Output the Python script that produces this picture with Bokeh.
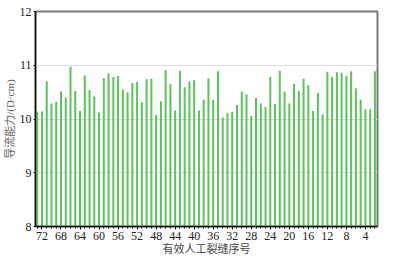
from bokeh.plotting import figure
from bokeh.models import Range1d, FixedTicker
from bokeh.embed import file_html
from bokeh.resources import INLINE

# fracture numbers (reversed order, as drawn left to right)
fracture_no = list(range(73, 1, -1))
conductivity = [
    10.14, 10.14, 10.70, 10.29, 10.32, 10.51, 10.40, 10.97, 10.52, 10.15,
    10.81, 10.54, 10.42, 10.12, 10.76, 10.85, 10.78, 10.80, 10.55, 10.50,
    10.67, 10.69, 10.31, 10.74, 10.75, 10.08, 10.33, 10.91, 10.65, 10.16,
    10.90, 10.59, 10.70, 10.72, 10.16, 10.36, 10.76, 10.36, 10.89, 10.03,
    10.11, 10.13, 10.26, 10.51, 10.46, 10.06, 10.39, 10.29, 10.23, 10.78,
    10.28, 10.90, 10.51, 10.29, 10.65, 10.52, 10.75, 10.63, 10.15, 10.49,
    10.09, 10.88, 10.78, 10.87, 10.86, 10.80, 10.89, 10.57, 10.36, 10.18,
    10.18, 10.89,
]
x_ticks = [72, 68, 64, 60, 56, 52, 48, 44, 40, 36, 32, 28, 24, 20, 16, 12, 8, 4]
y_ticks = [8, 9, 10, 11, 12]

MIXED_FONT = "'Liberation Serif', 'Noto Sans CJK SC'"

p = figure(width=393, height=257, output_backend="svg", toolbar_location=None,
           x_range=Range1d(73.36, 1.46), y_range=Range1d(8, 12),
           min_border_left=0, min_border_right=16, min_border_top=11, min_border_bottom=0)

p.vbar(x=fracture_no, top=conductivity, bottom=8, width=0.42,
       fill_color="#5cc25c", line_color=None)

p.outline_line_color = "#7a7a7a"
p.outline_line_width = 2

p.xgrid.visible = False
p.ygrid.ticker = FixedTicker(ticks=[9, 10, 11])
p.ygrid.grid_line_color = "#dddddd"
p.ygrid.grid_line_width = 1
p.ygrid.level = "underlay"

xa = p.xaxis[0]
xa.ticker = FixedTicker(ticks=x_ticks, minor_ticks=fracture_no)
xa.axis_line_color = "#111111"
xa.axis_line_width = 1.5
xa.major_tick_in = 0
xa.major_tick_out = 3
xa.minor_tick_in = 0
xa.minor_tick_out = 2
xa.major_tick_line_color = "#111111"
xa.minor_tick_line_color = "#111111"
xa.major_label_text_font = "Liberation Serif"
xa.major_label_text_font_size = "12px"
xa.major_label_text_color = "#222222"
xa.major_label_standoff = 2
xa.axis_label = "有效人工裂缝序号"
xa.axis_label_text_font = MIXED_FONT
xa.axis_label_text_font_size = "11px"
xa.axis_label_text_font_style = "normal"
xa.axis_label_text_color = "#444444"
xa.axis_label_standoff = 0

ya = p.yaxis[0]
ya.ticker = FixedTicker(ticks=y_ticks)
ya.axis_line_color = "#111111"
ya.axis_line_width = 1.5
ya.major_tick_in = 0
ya.major_tick_out = 2
ya.minor_tick_out = 0
ya.minor_tick_in = 0
ya.major_tick_line_color = "#111111"
ya.major_label_text_font = "Liberation Serif"
ya.major_label_text_font_size = "12px"
ya.major_label_text_color = "#222222"
ya.major_label_standoff = 2
ya.axis_label = "导流能力/(D·cm)"
ya.axis_label_text_font = MIXED_FONT
ya.axis_label_text_font_size = "11px"
ya.axis_label_text_font_style = "normal"
ya.axis_label_text_color = "#666666"
ya.axis_label_standoff = 1

p.background_fill_color = "white"
p.border_fill_color = "white"

open("out.html", "w").write(file_html(p, INLINE))
